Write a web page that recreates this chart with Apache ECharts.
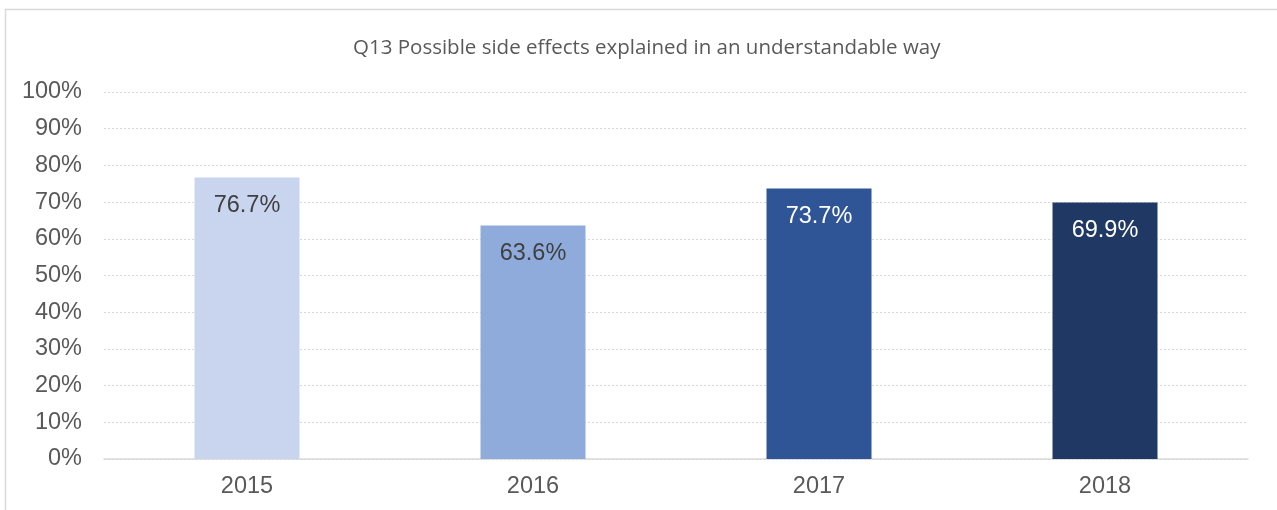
<!DOCTYPE html>
<html>
<head>
<meta charset="utf-8">
<script src="https://cdn.jsdelivr.net/npm/echarts@6/dist/echarts.min.js"></script>
<style>
html,body{margin:0;padding:0;background:#fff;}
#main{width:1277px;height:510px;}
</style>
</head>
<body>
<div id="main"></div>
<script>
const title = 'Q13 Possible side effects explained in an understandable way';
const categories = ['2015', '2016', '2017', '2018'];
const values = [76.7, 63.6, 73.7, 69.9];
const barColors = ['#C9D5EE', '#8FABDC', '#2F5597', '#203864'];
const labelColors = ['#404040', '#404040', '#ffffff', '#ffffff'];
const yTicks = [0, 10, 20, 30, 40, 50, 60, 70, 80, 90, 100];

const chart = echarts.init(document.getElementById('main'));
chart.setOption({
  animation: false,
  backgroundColor: '#ffffff',
  graphic: [{
    type: 'rect',
    shape: { x: 5.5, y: 9.5, width: 1300, height: 520 },
    style: { fill: 'none', stroke: '#D9D9D9', lineWidth: 1.5 },
    silent: true, z: -1
  }],
  title: {
    text: title,
    left: 348,
    top: 33,
    textStyle: { fontFamily: 'Open Sans', fontSize: 20.5, fontWeight: 'normal', color: '#595959' }
  },
  grid: { left: 104, right: 29, top: 92, bottom: 51, containLabel: false },
  xAxis: {
    type: 'category',
    data: categories,
    axisLine: { show: true, lineStyle: { color: '#D9D9D9', width: 1.5 } },
    axisTick: { show: false },
    axisLabel: { fontFamily: 'Liberation Sans', fontSize: 23.5, color: '#595959', margin: 16 }
  },
  yAxis: {
    type: 'value',
    min: yTicks[0],
    max: yTicks[yTicks.length - 1],
    interval: 10,
    axisLine: { show: false },
    axisTick: { show: false },
    splitLine: { show: true, lineStyle: { color: '#D9D9D9', type: [2, 2], width: 1 } },
    axisLabel: { fontFamily: 'Liberation Sans', fontSize: 23.5, color: '#595959', margin: 22, formatter: v => v + '%' }
  },
  series: [{
    type: 'bar',
    barWidth: 105,
    data: values.map((v, i) => ({
      value: v,
      itemStyle: { color: barColors[i] },
      label: { color: labelColors[i] }
    })),
    label: {
      show: true,
      position: 'insideTop',
      distance: 16,
      fontFamily: 'Liberation Sans',
      fontSize: 23.5,
      formatter: p => p.value.toFixed(1) + '%'
    }
  }]
});
</script>
</body>
</html>
